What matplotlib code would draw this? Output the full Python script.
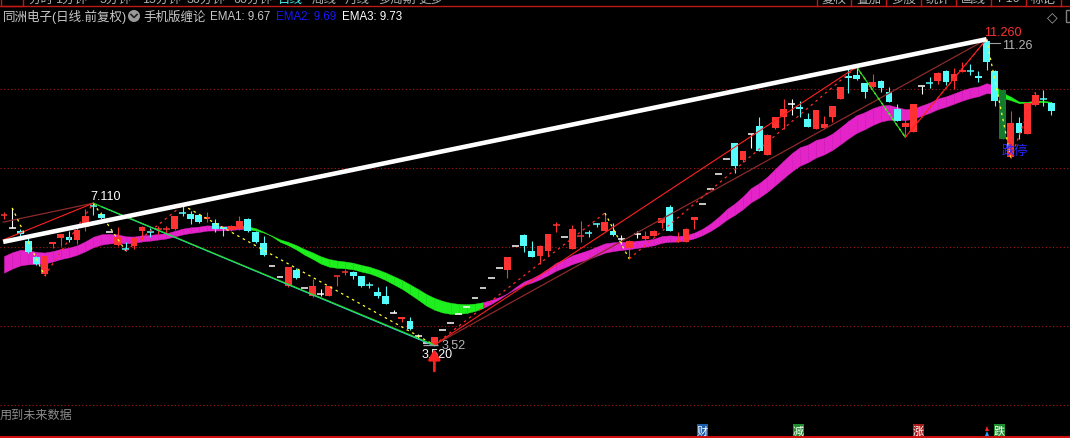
import matplotlib
matplotlib.use("Agg")
import matplotlib.pyplot as plt
from matplotlib.patches import Rectangle, Ellipse, Polygon

plt.rcParams['font.family'] = ['Liberation Sans', 'Noto Sans CJK SC', 'DejaVu Sans']

W, H = 1070, 439
# candle i sits at pixel x = X0 + DX * i ; price p sits at pixel y = Y10 + (10 - p) * PY
X0, DX = 4.0, 8.12
Y10, PY = 90.0, 39.5

# ---- daily bars ----
opens = [6.79, 6.48, 6.40, 6.15, 5.75, 5.32, 6.08, 6.23, 6.25, 6.18,
         6.50, 7.05, 6.84, 6.38, 6.05, 5.97, 6.02, 6.41, 6.40, 6.44,
         6.45, 6.46, 6.88, 6.84, 6.81, 6.71, 6.60, 6.50, 6.43, 6.46,
         6.71, 6.38, 6.10, 5.52, 5.24, 5.01, 5.42, 4.96, 4.76, 4.80,
         4.76, 5.24, 5.35, 5.37, 5.26, 5.05, 4.86, 4.76, 4.33, 4.18,
         4.13, 3.75, 3.56, 3.52, 3.90, 4.08, 4.30, 4.48, 4.71, 4.96,
         5.22, 5.47, 5.42, 6.03, 6.30, 5.90, 5.77, 5.90, 6.53, 6.25,
         5.95, 6.26, 6.37, 6.59, 6.41, 6.40, 6.20, 5.98, 6.33, 6.20,
         6.28, 6.61, 7.01, 6.13, 6.13, 6.68, 7.10, 7.47, 7.85, 8.23,
         8.63, 8.20, 8.86, 9.06, 8.33, 9.01, 9.29, 9.62, 9.54, 9.24,
         8.99, 9.01, 9.29, 9.75, 10.32, 10.35, 10.15, 10.05, 10.20, 9.92,
         9.49, 9.04, 8.91, 10.08, 10.17, 10.20, 10.46, 10.20, 10.43, 10.47,
         10.33, 11.22, 10.46, 9.97, 8.28, 9.14, 8.86, 9.59, 9.77, 9.65]
highs = [6.89, 6.99, 6.46, 6.28, 5.78, 5.80, 6.12, 6.33, 6.40, 6.51,
         6.96, 7.11, 6.88, 6.38, 6.51, 6.13, 6.25, 6.52, 6.48, 6.53,
         6.53, 6.78, 7.06, 6.92, 6.84, 6.89, 6.72, 6.51, 6.55, 6.78,
         6.73, 6.40, 6.28, 5.52, 5.24, 5.50, 5.47, 4.96, 5.19, 4.94,
         5.02, 5.27, 5.44, 5.38, 5.27, 5.11, 4.99, 5.01, 4.40, 4.23,
         4.23, 3.80, 3.56, 3.72, 3.90, 4.08, 4.30, 4.48, 4.71, 4.96,
         5.22, 5.47, 5.75, 6.03, 6.33, 6.15, 6.04, 6.34, 6.63, 6.25,
         6.56, 6.66, 6.43, 6.60, 6.86, 6.61, 6.30, 6.18, 6.41, 6.41,
         6.42, 6.74, 7.06, 6.38, 6.47, 6.76, 7.10, 7.47, 7.85, 8.23,
         8.64, 8.44, 8.86, 9.29, 8.85, 9.30, 9.75, 9.75, 9.70, 9.39,
         9.48, 9.32, 9.58, 10.06, 10.51, 10.56, 10.16, 10.38, 10.22, 10.05,
         9.62, 9.49, 9.63, 10.08, 10.30, 10.42, 10.47, 10.53, 10.68, 10.63,
         10.46, 11.26, 10.47, 9.97, 9.44, 9.29, 9.66, 9.92, 9.97, 9.66]
lows = [6.71, 6.48, 6.20, 5.85, 5.55, 5.27, 5.97, 6.03, 6.12, 6.08,
        6.40, 6.81, 6.70, 6.38, 6.03, 5.90, 5.95, 6.18, 6.25, 6.33,
        6.33, 6.44, 6.78, 6.58, 6.60, 6.63, 6.38, 6.28, 6.40, 6.44,
        6.39, 6.11, 5.78, 5.52, 5.24, 4.98, 5.20, 4.96, 4.73, 4.76,
        4.75, 5.01, 5.29, 5.19, 5.00, 4.96, 4.71, 4.55, 4.33, 4.10,
        3.91, 3.67, 3.56, 3.52, 3.90, 4.08, 4.30, 4.48, 4.71, 4.96,
        5.22, 5.47, 5.22, 6.03, 5.87, 5.74, 5.57, 5.77, 6.38, 6.25,
        5.94, 6.13, 6.25, 6.51, 6.40, 6.29, 6.08, 5.70, 6.23, 6.15,
        6.27, 6.48, 6.40, 6.13, 6.12, 6.46, 7.10, 7.47, 7.85, 8.23,
        7.87, 8.15, 8.51, 8.42, 8.32, 9.00, 8.99, 9.34, 9.29, 9.03,
        8.98, 9.00, 9.16, 9.74, 9.90, 10.23, 9.77, 10.03, 9.92, 9.66,
        9.18, 8.78, 8.90, 9.87, 10.03, 10.13, 10.10, 10.00, 10.42, 10.35,
        10.18, 10.48, 9.57, 8.73, 8.25, 8.73, 8.85, 9.58, 9.57, 9.34]
closes = [6.82, 6.48, 6.34, 5.87, 5.57, 5.77, 6.12, 6.33, 6.18, 6.43,
          6.78, 7.03, 6.73, 6.38, 6.25, 5.95, 6.23, 6.51, 6.37, 6.47,
          6.48, 6.78, 6.85, 6.71, 6.63, 6.76, 6.45, 6.46, 6.53, 6.66,
          6.41, 6.13, 5.80, 5.52, 5.24, 5.49, 5.22, 4.96, 5.01, 4.80,
          5.01, 5.27, 5.38, 5.27, 5.01, 5.03, 4.76, 4.56, 4.33, 4.23,
          3.92, 3.75, 3.56, 3.72, 3.90, 4.08, 4.30, 4.48, 4.71, 4.96,
          5.22, 5.47, 5.75, 6.03, 6.03, 5.75, 6.03, 6.33, 6.56, 6.25,
          6.46, 6.29, 6.35, 6.57, 6.63, 6.30, 6.20, 6.15, 6.33, 6.28,
          6.41, 6.73, 6.41, 6.16, 6.46, 6.76, 7.10, 7.47, 7.85, 8.23,
          8.05, 8.43, 8.86, 8.43, 8.84, 9.29, 9.49, 9.62, 9.50, 9.04,
          9.47, 9.11, 9.57, 10.05, 10.28, 10.25, 9.92, 10.18, 10.03, 9.67,
          9.19, 9.14, 9.62, 10.08, 10.14, 10.41, 10.18, 10.38, 10.48, 10.44,
          10.28, 10.68, 9.70, 8.73, 9.14, 8.89, 9.65, 9.85, 9.74, 9.44]
limit_down_bars = [123]

# EMA1 / EMA2 / EMA3 periods and their values carried in from before the first bar
ema_periods = [5, 14, 21]
ema_starts = [6.60, 5.77, 5.35]

# Chan-theory strokes (bi) and segments: (bar index, price)
bi_pivots = [(1, 6.99), (5, 5.27), (11, 7.11), (15, 5.90), (22, 7.06), (53, 3.52),
             (74, 6.86), (77, 5.70), (105, 10.56), (111, 8.78), (121, 11.26),
             (124, 8.25), (127, 9.92)]
seg_pivots = [(11, 7.11), (53, 3.52), (105, 10.56), (111, 8.78), (121, 11.26)]
lead_in_red = (-0.1, 6.18)
lead_in_brown = (-0.1, 6.63)
trend_white = [(-0.1, 6.13), (121, 11.26)]
trend_brown = [(53, 3.52), (121, 11.26)]
trend_cyan = [(12, 7.02), (53, 3.50)]

grid_prices = [10, 8, 6, 4, 2]

RED = '#ff3232'
CYAN = '#54fcfc'
WHITE = '#ffffff'
DKGREEN = '#137a2e'
MAGENTA = '#e424c8'
LGREEN = '#1ef01e'

fig = plt.figure(figsize=(W / 100, H / 100), dpi=100, facecolor='black')
ax = fig.add_axes([0, 0, 1, 1])
ax.set_facecolor('black')
ax.set_xlim((0 - X0) / DX, (W - X0) / DX)
ax.set_ylim(10 - (H - Y10) / PY, 10 + Y10 / PY)
ax.axis('off')


def ftext(x, y, s, **kw):
    kw.setdefault('va', 'center')
    return fig.text(x / W, 1 - y / H, s, **kw)


def fline(xs, ys, **kw):
    fig.add_artist(plt.Line2D([x / W for x in xs], [1 - y / H for y in ys],
                              transform=fig.transFigure, **kw))


def frect(x, y, w, h, **kw):
    fig.add_artist(Rectangle((x / W, 1 - (y + h) / H), w / W, h / H,
                             transform=fig.transFigure, **kw))


# dotted price grid
for g in grid_prices:
    ax.axhline(g, color='#b01818', lw=0.8, ls=(0, (1, 2.2)), zorder=1)


# EMA ribbon: band between EMA2 and EMA3, magenta while EMA1 holds above EMA3
def ema(values, n, start):
    a = 2.0 / (n + 1)
    out = [start]
    for v in values[1:]:
        out.append(out[-1] + a * (v - out[-1]))
    return out


n = len(closes)
ema1, ema2, ema3 = [ema(closes, p, s) for p, s in zip(ema_periods, ema_starts)]
for i in range(n - 1):
    col = MAGENTA if ema1[i + 1] >= ema3[i + 1] else LGREEN
    ax.fill_between([i, i + 1], ema2[i:i + 2], ema3[i:i + 2], color=col,
                    lw=0.3, edgecolor=col, zorder=2)

# candles
BW = 0.84
for i in range(n):
    o, h, l, c = opens[i], highs[i], lows[i], closes[i]
    if i in limit_down_bars:
        col = DKGREEN
    elif c > o:
        col = RED
    elif c < o:
        col = CYAN
    else:
        col = WHITE
    if h > l:
        ax.vlines(i, l, h, color=col, lw=0.8, zorder=3)
    if abs(c - o) * PY < 1.5:
        ax.hlines((o + c) / 2, i - BW / 2, i + BW / 2, color=col, lw=1.1, zorder=3)
    else:
        ax.add_patch(Rectangle((i - BW / 2, min(o, c)), BW, abs(c - o),
                               facecolor=col, edgecolor='none', zorder=3))

# trend lines
ax.plot(*zip(*trend_white), color='white', lw=3.3, solid_capstyle='butt', zorder=6)
ax.plot(*zip(*trend_brown), color='#8c2a2a', lw=0.9, zorder=4)
ax.plot([lead_in_brown[0], seg_pivots[0][0]], [lead_in_brown[1], seg_pivots[0][1]],
        color='#8c2a2a', lw=0.9, zorder=4)
ax.plot([lead_in_red[0], seg_pivots[0][0]], [lead_in_red[1], seg_pivots[0][1]],
        color='#ff2020', lw=0.8, zorder=4)
ax.plot(*zip(*trend_cyan), color='#30c8d8', lw=0.9, zorder=4)

# strokes: yellow going down, red going up (dashed)
for (i0, p0), (i1, p1) in zip(bi_pivots[:-1], bi_pivots[1:]):
    col = '#ffff30' if p1 < p0 else '#ff2a2a'
    ax.plot([i0, i1], [p0, p1], color=col, lw=0.9, ls=(0, (2, 3)), zorder=5)

# segments: green going down, red going up (solid)
for (i0, p0), (i1, p1) in zip(seg_pivots[:-1], seg_pivots[1:]):
    col = '#22e022' if p1 < p0 else '#ff2020'
    ax.plot([i0, i1], [p0, p1], color=col, lw=0.8, zorder=5)

# extreme price labels
i_hi = 11
ax.annotate('7.110', xy=(i_hi, highs[i_hi]), xytext=(12, 7), textcoords='offset pixels',
            color='white', fontsize=9, ha='center', va='center', zorder=8)
i_lo = 53
ax.hlines(lows[i_lo], i_lo - 1.4, i_lo + 0.4, color='#a0a0a0', lw=0.9, zorder=7)
ax.annotate('3.52', xy=(i_lo, lows[i_lo]), xytext=(7, 0), textcoords='offset pixels',
            color='#b4b4b4', fontsize=9, ha='left', va='center', zorder=8)
ax.annotate('3.520', xy=(i_lo, lows[i_lo]), xytext=(3, -9), textcoords='offset pixels',
            color='white', fontsize=9, ha='center', va='center', zorder=9)
ax.annotate('', xy=(i_lo, lows[i_lo]), xytext=(0, -26), textcoords='offset pixels',
            arrowprops=dict(arrowstyle='-|>,head_width=0.35,head_length=0.6',
                            color='#ff2020', lw=2.0, shrinkA=0, shrinkB=3), zorder=9)
i_top = 121
ax.annotate('11.260', xy=(i_top, highs[i_top]), xytext=(16.5, 7), textcoords='offset pixels',
            color=RED, fontsize=9, ha='center', va='center', zorder=8)
ax.annotate('11.26', xy=(i_top, highs[i_top]), xytext=(15.5, -6), textcoords='offset pixels',
            color='#b4b4b4', fontsize=9, ha='left', va='center', zorder=8)
fline([990, 1000], [44, 44], color='#a0a0a0', lw=0.8)
ftext(1015, 152, '跌停', color='#2828ff', fontsize=9.5, ha='center')

# top menu strip (clipped by the top edge)
fline([0, W], [7, 7], color='#c01818', lw=1.0)
frect(0.5, -2, 22, 9, facecolor='none', edgecolor='#c01818', lw=1.0)
menu = [('分时', 28), ('1分钟', 55), ('5分钟', 100), ('15分钟', 142), ('30分钟', 187),
        ('60分钟', 233), ('日线', 278), ('周线', 312), ('月线', 345), ('多周期', 378),
        ('更多', 418)]
for s, x in menu:
    ftext(x, -0.5, s, color='#44f0f0' if s == '日线' else '#b0b0b0', fontsize=9, ha='left')
tool_edges = [817, 851, 886, 921, 956, 991, 1026, 1061]
tools = ['复权', '叠加', '多股', '统计', '画线', 'F10', '标记']
for xe in tool_edges:
    fline([xe, xe], [0, 7], color='#c01818', lw=1.0)
for s, a, b in zip(tools, tool_edges[:-1], tool_edges[1:]):
    ftext((a + b) / 2, -0.5, s, color='#b0b0b0', fontsize=9, ha='center')

# title row
ftext(3, 17, '同洲电子(日线.前复权)', color='#c8c8c8', fontsize=9, ha='left')
fig.add_artist(Ellipse((134 / W, 1 - 17 / H), 12 / W, 12 / H, transform=fig.transFigure,
                       facecolor='#9a9a9a', edgecolor='none'))
fline([131, 134, 137], [15.5, 18.5, 15.5], color='#202020', lw=1.2)
ftext(143, 17, '手机版缠论', color='#c8c8c8', fontsize=9, ha='left')
ftext(210, 17, 'EMA1: 9.67', color='#c8c8c8', fontsize=8.3, ha='left')
ftext(276, 17, 'EMA2: 9.69', color='#1818ff', fontsize=8.3, ha='left')
ftext(342, 17, 'EMA3: 9.73', color='#ffffff', fontsize=8.3, ha='left')
ftext(1052, 17, '◇', color='#a0a0a0', fontsize=10, ha='center', family='DejaVu Sans')
frect(1066, 11, 8, 12, facecolor='none', edgecolor='#808080', lw=1.0)

# bottom strip
ftext(0, 416, '用到未来数据', color='#8c8c8c', fontsize=8.7, ha='left')
badges = [('财', 697, '#1c5ca8'), ('减', 793, '#1e8c2c'), ('涨', 913, '#a81c1c'), ('跌', 994, '#1e9030')]
for s, x, bg in badges:
    frect(x, 425, 11, 13, facecolor=bg, edgecolor='none')
    ftext(x + 5.5, 431.5, s, color='white', fontsize=8, ha='center')
fig.add_artist(Polygon([(985 / W, 1 - 432 / H), (989 / W, 1 - 432 / H), (987 / W, 1 - 427 / H)],
                       closed=True, transform=fig.transFigure, facecolor='#ff2020', edgecolor='none'))
fig.add_artist(Polygon([(985 / W, 1 - 437 / H), (989 / W, 1 - 437 / H), (987 / W, 1 - 432 / H)],
                       closed=True, transform=fig.transFigure, facecolor='#30a0ff', edgecolor='none'))
fline([0, W], [437.5, 437.5], color='#d01010', lw=1.5)

fig.savefig('out.png', dpi=100, facecolor='black')
